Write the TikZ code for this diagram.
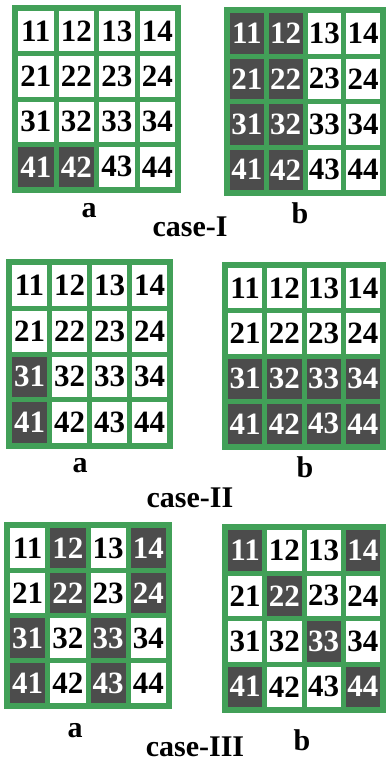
\documentclass[tikz,border=0pt]{standalone}
\usepackage{fontspec}
\setmainfont{Liberation Serif}
\definecolor{gridgreen}{RGB}{66,160,88}
\definecolor{cellgray}{RGB}{76,76,76}
\tikzset{
  numcell/.style={fill=white, inner sep=0pt, text=black,
    font=\bfseries\fontsize{31}{31}\selectfont},
  darkcell/.style={numcell, fill=cellgray, text=white},
  caselabel/.style={anchor=base, font=\bfseries\fontsize{30}{30}\selectfont},
}
% #1 name, #2 left, #3 top, #4 right, #5 bottom, #6 dark cells as row/col
\newcommand{\numgrid}[6]{%
  \pgfmathsetmacro\gcw{(#4-#2-27)/4}
  \pgfmathsetmacro\gch{(#5-#3-27)/4}
  \fill[gridgreen] (#2,#3) rectangle (#4,#5);
  \foreach \ri/\ci in {#6}{\expandafter\gdef\csname dk#1\ri\ci\endcsname{}}
  \foreach \ri in {1,...,4}{
    \foreach \ci in {1,...,4}{
      \ifcsname dk#1\ri\ci\endcsname
        \tikzset{curcell/.style={darkcell}}
      \else
        \tikzset{curcell/.style={numcell}}
      \fi
      \node[curcell, minimum width=\gcw pt, minimum height=\gch pt] (#1-\ri\ci)
        at ({#2+6+(\ci-1)*(\gcw+5)+\gcw/2},{#3+6+(\ri-1)*(\gch+5)+\gch/2}) {\ri\ci};
    }}
}
\begin{document}
\begin{tikzpicture}[x=1pt,y=-1pt]
  \useasboundingbox (0,0) rectangle (386,761);
  \numgrid{Ia}{12}{5}{181}{193}{4/1,4/2}
  \numgrid{Ib}{224}{7}{386}{196}{1/1,1/2,2/1,2/2,3/1,3/2,4/1,4/2}
  \node[caselabel] (la1) at (89,217) {a};
  \node[caselabel] (lb1) at (300,223) {b};
  \node[caselabel] (case1) at (190,236) {case-I};
  \numgrid{IIa}{6}{259}{173}{449}{3/1,4/1}
  \numgrid{IIb}{222}{262}{386}{450}{3/1,3/2,3/3,3/4,4/1,4/2,4/3,4/4}
  \node[caselabel] (la2) at (80,472) {a};
  \node[caselabel] (lb2) at (305,477) {b};
  \node[caselabel] (case2) at (190,507) {case-II};
  \numgrid{IIIa}{4}{522}{172}{709}{1/2,1/4,2/2,2/4,3/1,3/3,4/1,4/3}
  \numgrid{IIIb}{222}{524}{386}{713}{1/1,1/4,2/2,3/3,4/1,4/4}
  \node[caselabel] (la3) at (75,737) {a};
  \node[caselabel] (lb3) at (302,750) {b};
  \node[caselabel] (case3) at (195,756) {case-III};
\end{tikzpicture}
\end{document}
